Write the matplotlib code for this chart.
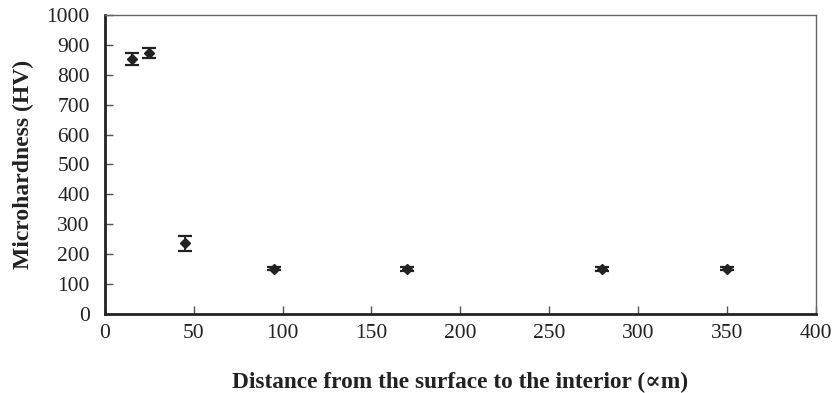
import matplotlib
matplotlib.use("Agg")
import matplotlib.pyplot as plt

# distance from surface (um) vs microhardness (HV)
distance = [15, 25, 45, 95, 170, 280, 350]
hardness = [853, 873, 236, 152, 151, 151, 152]
error = [20, 16, 26, 6, 6, 6, 6]

x_ticks = [0, 50, 100, 150, 200, 250, 300, 350, 400]
y_ticks = [0, 100, 200, 300, 400, 500, 600, 700, 800, 900, 1000]

plt.rcParams["font.family"] = ["Liberation Serif", "DejaVu Serif"]
ink = "#222222"

fig = plt.figure(figsize=(8.34, 3.93), dpi=100)
ax = fig.add_axes([0.1259, 0.201, 0.852, 0.761])

ax.errorbar(distance, hardness, yerr=error, fmt="D", color=ink, markersize=5,
            ecolor=ink, elinewidth=1.3, capsize=5, capthick=1.6)

ax.set_xlim(0, 400)
ax.set_ylim(0, 1000)
ax.set_xticks(x_ticks)
ax.set_yticks(y_ticks)
ax.tick_params(direction="in", length=6, width=1, colors="#555555", labelcolor=ink, labelsize=15.5, pad=7)
ax.tick_params(axis="y", pad=11)
ax.tick_params(top=False, right=False)

for side in ["left", "bottom"]:
    ax.spines[side].set_linewidth(2)
    ax.spines[side].set_color(ink)
for side in ["top", "right"]:
    ax.spines[side].set_linewidth(1)
    ax.spines[side].set_color("#666666")

ax.set_xlabel("Distance from the surface to the interior (\u221dm)", fontsize=16.8, fontweight="bold", color=ink, labelpad=21)
ax.set_ylabel("Microhardness (HV)", fontsize=17, fontweight="bold", color=ink, labelpad=9)

fig.savefig("out.png", dpi=100)
